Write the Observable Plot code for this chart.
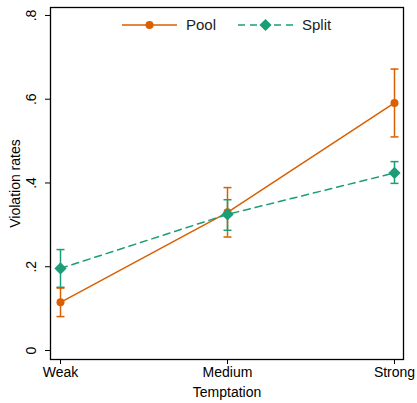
<!DOCTYPE html>
<html><head><meta charset="utf-8">
<script src="https://cdn.jsdelivr.net/npm/d3@7"></script>
<script src="https://cdn.jsdelivr.net/npm/@observablehq/plot@0.6"></script>
<style>body{margin:0;background:#fff;font-family:"Liberation Sans",Arial,sans-serif}#chart{position:relative;width:417px;height:403px}</style>
</head><body><div id="chart"></div>
<script>
const categories = ["Weak", "Medium", "Strong"];
const series = ["Pool", "Split"];
const poolRate = [0.115, 0.330, 0.591];
const poolLow = [0.081, 0.271, 0.510];
const poolHigh = [0.149, 0.389, 0.672];
const splitRate = [0.196, 0.325, 0.424];
const splitLow = [0.151, 0.287, 0.399];
const splitHigh = [0.241, 0.360, 0.451];
const yTicks = [0, 0.2, 0.4, 0.6, 0.8];
const colors = {Pool: "#d95f02", Split: "#1b9e77"};

const rows = [];
categories.forEach((c, i) => {
  rows.push({cat: c, s: "Pool", v: poolRate[i], lo: poolLow[i], hi: poolHigh[i]});
  rows.push({cat: c, s: "Split", v: splitRate[i], lo: splitLow[i], hi: splitHigh[i]});
});
const pool = rows.filter(d => d.s === "Pool");
const split = rows.filter(d => d.s === "Split");

const capSymbol = {draw(ctx, size) { const w = 4; ctx.moveTo(-w, 0); ctx.lineTo(w, 0); }};
const fmt = d => d === 0 ? "0" : d3.format(".1f")(d).replace(/^0/, "");

const plot = Plot.plot({
  width: 417, height: 403,
  marginLeft: 50, marginRight: 14, marginTop: 7, marginBottom: 44,
  style: {fontFamily: "'Liberation Sans', Arial, sans-serif", fontSize: "14px", color: "#000", background: "#fff"},
  x: {type: "point", domain: categories, padding: 0, inset: 9.5},
  y: {domain: [-0.0215, 0.819]},
  marks: [
    Plot.frame({stroke: "#000", strokeWidth: 1.3}),
    Plot.axisY({ticks: yTicks, tickFormat: fmt, tickSize: 5, tickRotate: -90, tickPadding: 10, label: "Violation rates", labelAnchor: "center", labelArrow: "none", labelOffset: 40, fontSize: 14}),
    Plot.axisX({tickSize: 5, tickPadding: 3, label: "Temptation", labelAnchor: "center", labelArrow: "none", labelOffset: 37, fontSize: 14}),
    // Pool
    Plot.line(pool, {x: "cat", y: "v", stroke: colors.Pool, strokeWidth: 1.5}),
    Plot.ruleX(pool, {x: "cat", y1: "lo", y2: "hi", stroke: colors.Pool, strokeWidth: 1.5}),
    Plot.dot(pool, {x: "cat", y: "lo", symbol: capSymbol, stroke: colors.Pool, strokeWidth: 1.5}),
    Plot.dot(pool, {x: "cat", y: "hi", symbol: capSymbol, stroke: colors.Pool, strokeWidth: 1.5}),
    Plot.dot(pool, {x: "cat", y: "v", r: 4, fill: colors.Pool}),
    // Split
    Plot.line(split, {x: "cat", y: "v", stroke: colors.Split, strokeWidth: 1.5, strokeDasharray: "7,5"}),
    Plot.ruleX(split, {x: "cat", y1: "lo", y2: "hi", stroke: colors.Split, strokeWidth: 1.5}),
    Plot.dot(split, {x: "cat", y: "lo", symbol: capSymbol, stroke: colors.Split, strokeWidth: 1.5}),
    Plot.dot(split, {x: "cat", y: "hi", symbol: capSymbol, stroke: colors.Split, strokeWidth: 1.5}),
    Plot.dot(split, {x: "cat", y: "v", symbol: "diamond2", r: 5.5, fill: colors.Split})
  ]
});
document.getElementById("chart").appendChild(plot);

// Legend inside the plot area, near the top
const svg = d3.select(plot);
const leg = svg.append("g").attr("font-size", 15).attr("fill", "#222").attr("text-anchor", "start");
const items = [
  {name: "Pool", x0: 122, dash: null, sym: "circle"},
  {name: "Split", x0: 238, dash: "7,5", sym: "diamond"}
];
const ly = 25;
items.forEach(it => {
  const c = colors[it.name];
  leg.append("line").attr("x1", it.x0).attr("x2", it.x0 + 55).attr("y1", ly).attr("y2", ly)
    .attr("stroke", c).attr("stroke-width", 1.5).attr("stroke-dasharray", it.dash);
  const cx = it.x0 + 27.5;
  if (it.sym === "circle") leg.append("circle").attr("cx", cx).attr("cy", ly).attr("r", 4).attr("fill", c);
  else leg.append("path").attr("d", d3.symbol(d3.symbolDiamond2, 5.5 * 5.5 * Math.PI)()).attr("transform", `translate(${cx},${ly})`).attr("fill", c);
  leg.append("text").attr("x", it.x0 + 64).attr("y", ly).attr("dy", "0.35em").text(it.name);
});
</script></body></html>
